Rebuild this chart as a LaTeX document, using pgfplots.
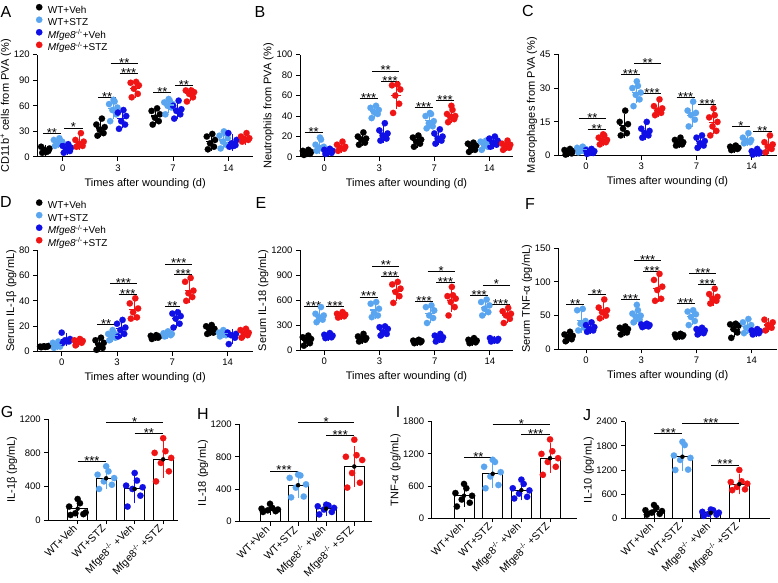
\documentclass[border=0pt]{standalone}
\usepackage{pgfplots}
\pgfplotsset{compat=1.18}
\usepackage{pgfplotstable}
\usepackage{fontspec}
\setmainfont{Liberation Sans}
\setsansfont{Liberation Sans}

\definecolor{cK}{RGB}{0,0,0}
\definecolor{cL}{RGB}{90,165,240}
\definecolor{cB}{RGB}{15,15,230}
\definecolor{cR}{RGB}{240,20,20}

\pgfplotsset{
  panel/.style={scale only axis, clip=false,
    axis x line*=bottom, axis y line*=left,
    axis line style={line width=1pt,-},
    tick style={line width=1pt, black},
    tick align=outside, major tick length=4pt,
    ymin=0, xtick={1,2,3,4},
    tick label style={font=\fontsize{9.5}{10}\selectfont},
    label style={font=\fontsize{11}{12}\selectfont},
    ylabel shift=-4pt,
    /pgf/number format/assume math mode=true,
    /pgf/number format/set thousands separator={},
    scaled y ticks=false},
  timeax/.style={panel, xticklabels={0,3,7,14}, xlabel={Times after wounding (d)}},
  barax/.style={panel, ylabel shift=-4.5pt,
    xticklabels={WT+Veh,WT+STZ,Mfge8\textsuperscript{-/-} +Veh,Mfge8\textsuperscript{-/-} +STZ},
    x tick label style={rotate=45, anchor=east, font=\fontsize{10.5}{10.5}\selectfont}},
  pt/.style={only marks, mark=*, mark size=3.2pt, color=#1,
    mark options={fill=#1, draw=#1, line width=0.1pt}},
  msd/.style={forget plot, only marks, mark=-, mark size=5pt, color=#1,
    mark options={line width=1.2pt},
    error bars/y dir=both, error bars/y explicit,
    error bars/error bar style={line width=1pt, color=#1},
    error bars/error mark options={line width=1pt, mark size=3pt, color=#1}},
  eb/.style={forget plot, only marks, mark=none,
    error bars/y dir=both, error bars/y explicit,
    error bars/error bar style={line width=1pt, color=#1},
    error bars/error mark options={line width=1pt, mark size=3.5pt, color=#1}},
  leg/.style={legend style={at={(rel axis cs:0,1)}, anchor=south west,
      xshift=-1.5pt, yshift=1pt, draw=none, fill=none, inner sep=0pt,
      row sep=0.8pt, font=\fontsize{10}{11}\selectfont,
      nodes={inner sep=0.5pt, text height=7.5pt, text depth=2pt},
      /tikz/every odd column/.append style={column sep=5pt}},
    legend cell align=left,
    legend image code/.code={\draw[##1] plot coordinates {(0pt,3.3pt)};}},
}

% significance bracket: x1 x2 y stars
\newcommand{\br}[4]{\draw[line width=0.8pt] (axis cs:#1,#3) -- (axis cs:#2,#3)
  node[midway, anchor=base, yshift=-4pt, inner sep=0pt, font=\fontsize{13}{13}\selectfont] {#4};}

\newcommand{\scat}[2]{%
  \addplot[pt=cK] table[x expr=\thisrow{c}-0.31+\thisrow{j}, y=y1] {#1};
  \addplot[pt=cL] table[x expr=\thisrow{c}-0.08+\thisrow{j}, y=y2] {#1};
  \addplot[pt=cB] table[x expr=\thisrow{c}+0.08+\thisrow{j}, y=y3] {#1};
  \addplot[pt=cR] table[x expr=\thisrow{c}+0.31+\thisrow{j}, y=y4] {#1};
  \addplot[msd=cK] table[x expr=\thisrow{c}-0.31, y=m1, y error=s1] {#2};
  \addplot[msd=cL] table[x expr=\thisrow{c}-0.08, y=m2, y error=s2] {#2};
  \addplot[msd=cB] table[x expr=\thisrow{c}+0.08, y=m3, y error=s3] {#2};
  \addplot[msd=cR] table[x expr=\thisrow{c}+0.31, y=m4, y error=s4] {#2};
}

\newcommand{\barpts}[1]{%
  \addplot[pt=cK, forget plot] table[x expr=1+\thisrow{j}, y=y1] {#1};
  \addplot[pt=cL, forget plot] table[x expr=2+\thisrow{j}, y=y2] {#1};
  \addplot[pt=cB, forget plot] table[x expr=3+\thisrow{j}, y=y3] {#1};
  \addplot[pt=cR, forget plot] table[x expr=4+\thisrow{j}, y=y4] {#1};
}

% ---------- A: CD11b+ ----------
\pgfplotstableread{
c j y1 y2 y3 y4
1 -0.06 5 13 5 12
1 0.05 7 15 7 13
1 -0.02 8 17 9 15
1 0.07 10 18 11 18
1 -0.08 12 20 13 20
1 0.02 6 22 15 28
1 0.00 nan 16 nan nan
2 -0.06 25 42 33 70
2 0.05 28 50 38 74
2 -0.02 32 55 42 80
2 0.07 35 58 48 84
2 -0.08 38 62 52 87
2 0.02 45 65 55 88
2 0.00 nan 67 nan nan
3 -0.06 38 50 45 65
3 0.05 42 58 50 70
3 -0.02 46 60 54 74
3 0.07 50 62 56 76
3 -0.08 54 64 60 78
3 0.02 57 66 66 78
3 0.00 nan 68 nan nan
4 -0.06 9 10 12 18
4 0.05 12 14 14 20
4 -0.02 16 18 16 21
4 0.07 20 22 20 22
4 -0.08 24 25 28 24
4 0.02 27 28 13 28
4 0.00 nan 30 nan nan
}\tA
\pgfplotstableread{
c m1 s1 m2 s2 m3 s3 m4 s4
1 8 3 17 3 10 4 18 6
2 34 7 57 9 45 8 80 7
3 48 7 61 6 55 7 74 5
4 18 7 20 7 17 6 22 4
}\mA

% ---------- B: neutrophils ----------
\pgfplotstableread{
c j y1 y2 y3 y4
1 -0.06 2 6 3 6
1 0.05 3 8 4 8
1 -0.02 4 9 5 9
1 0.07 5 10 6 10
1 -0.08 6 12 7 12
1 0.02 7 17 8 15
1 0.00 nan 19 nan nan
2 -0.06 12 38 16 43
2 0.05 14 42 18 52
2 -0.02 17 44 21 60
2 0.07 18 46 23 66
2 -0.08 20 48 26 70
2 0.02 24 50 33 71
2 0.00 nan nan nan nan
3 -0.06 10 28 13 34
3 0.05 13 30 16 37
3 -0.02 15 33 18 39
3 0.07 17 35 20 40
3 -0.08 19 40 23 42
3 0.02 21 42 27 46
3 0.00 nan 43 nan 50
4 -0.06 5 7 10 7
4 0.05 7 10 12 9
4 -0.02 9 12 14 11
4 0.07 11 14 16 12
4 -0.08 13 15 18 13
4 0.02 14 16 20 16
4 0.00 nan nan nan nan
}\tB
\pgfplotstableread{
c m1 s1 m2 s2 m3 s3 m4 s4
1 4.5 2 11 5 5.5 2 10 3
2 17.5 4 45 4 23 6 60 10
3 16 4 36 6 20 5 41 5
4 10 3 12 3 15 4 12 3
}\mB

% ---------- C: macrophages ----------
\pgfplotstableread{
c j y1 y2 y3 y4
1 -0.06 0.5 1.5 0.8 5
1 0.05 1 2 1.2 6
1 -0.02 1.5 2.5 1.6 6.5
1 0.07 2 3 2 7
1 -0.08 2.5 3.5 2.5 8
1 0.02 3 4 3 9
1 0.00 nan nan nan 9.5
2 -0.06 9 22 8 18
2 0.05 10 25 9 19
2 -0.02 12 27 10 20
2 0.07 14 28 11 21
2 -0.08 15 30 12 22
2 0.02 20 31 15 25
2 0.00 nan 33 nan nan
3 -0.06 4.5 13 3.5 9
3 0.05 5 16 4.5 11
3 -0.02 5.5 18 5.5 13
3 0.07 6 19 6.5 15
3 -0.08 7 20 8 17
3 0.02 8 24 9 18
3 0.00 nan nan nan 21
4 -0.06 2.5 5.5 0.5 1.5
4 0.05 3 6 1 3
4 -0.02 3 6.5 1.2 4
4 0.07 3.5 7 1.5 5
4 -0.08 4 8 2 6
4 0.02 4.5 10 3 9
4 0.00 nan nan nan nan
}\tC
\pgfplotstableread{
c m1 s1 m2 s2 m3 s3 m4 s4
1 1.6 0.9 2.8 0.9 1.8 0.8 7.2 1.5
2 13.3 4 28 3.5 10.8 2.5 21 2.5
3 6 1.3 18 4 6.2 2 14.9 4
4 3.4 0.7 7.2 1.7 1.5 0.8 4.8 2.7
}\mC

% ---------- D: serum IL-1b ----------
\pgfplotstableread{
c j y1 y2 y3 y4
1 -0.06 3.5 3 7 5
1 0.05 4 4 8 7
1 -0.02 4.2 5 9 8
1 0.07 4.5 6 10 8.5
1 -0.08 4 7 15 9
1 0.02 3.8 8 8.5 10
1 0.00 nan nan nan nan
2 -0.06 1.5 9 12 26
2 0.05 3 11 14 27
2 -0.02 5 12 17 31
2 0.07 7 13 19 34
2 -0.08 9 14 22 38
2 0.02 11 15 25 42
2 0.00 nan 17 nan nan
3 -0.06 10 12 19 40
3 0.05 11 13 22 43
3 -0.02 11.5 13.5 26 46
3 0.07 12 14 28 48
3 -0.08 12.5 14.5 30 55
3 0.02 13 15 31 58
3 0.00 nan 16 nan nan
4 -0.06 14 12 6 11
4 0.05 15 13 11 13
4 -0.02 17 14 13 14
4 0.07 18 15 14 15
4 -0.08 20 15 15 17
4 0.02 21 16 nan 18
4 0.00 nan 17 nan nan
}\tD
\pgfplotstableread{
c m1 s1 m2 s2 m3 s3 m4 s4
1 4 0.4 5.5 2 9.5 3 8 2
2 6 3.5 13 3 18 5 33 6
3 12 1 14 1.3 26 5 48 7
4 17.5 2.8 14.5 1.7 12 3.5 15 2.5
}\mD

% ---------- E: serum IL-18 ----------
\pgfplotstableread{
c j y1 y2 y3 y4
1 -0.06 60 340 150 395
1 0.05 90 370 160 410
1 -0.02 120 400 170 420
1 0.07 140 420 180 430
1 -0.08 160 440 190 440
1 0.02 180 520 210 460
1 0.00 nan nan nan nan
2 -0.06 110 400 180 570
2 0.05 130 420 200 650
2 -0.02 140 450 220 700
2 0.07 150 500 260 740
2 -0.08 170 560 280 790
2 0.02 200 580 290 820
2 0.00 nan nan nan nan
3 -0.06 90 330 110 420
3 0.05 100 390 130 520
3 -0.02 110 420 150 580
3 0.07 115 480 160 620
3 -0.08 120 520 180 650
3 0.02 130 540 200 660
3 0.00 nan nan nan 760
4 -0.06 90 420 110 330
4 0.05 100 460 120 380
4 -0.02 110 500 130 420
4 0.07 120 540 140 440
4 -0.08 130 580 150 470
4 0.02 150 610 nan 510
4 0.00 nan nan nan nan
}\tE
\pgfplotstableread{
c m1 s1 m2 s2 m3 s3 m4 s4
1 125 45 415 55 177 22 425 22
2 150 30 485 75 240 45 712 85
3 110 15 447 80 155 30 600 100
4 117 20 518 70 130 15 425 60
}\mE

% ---------- F: serum TNF-a ----------
\pgfplotstableread{
c j y1 y2 y3 y4
1 -0.06 12 28 26 46
1 0.05 15 32 28 50
1 -0.02 18 38 30 55
1 0.07 20 42 33 58
1 -0.08 22 58 36 62
1 0.02 26 60 40 74
1 0.00 nan nan nan nan
2 -0.06 22 40 33 72
2 0.05 25 44 34 75
2 -0.02 28 48 35 88
2 0.07 30 50 36 93
2 -0.08 32 53 37 103
2 0.02 34 58 38 112
2 0.00 nan 66 nan nan
3 -0.06 18 36 22 68
3 0.05 19 42 24 72
3 -0.02 20 48 26 75
3 0.07 21 52 28 78
3 -0.08 22 56 30 82
3 0.02 23 58 32 90
3 0.00 nan nan nan nan
4 -0.06 17 24 22 28
4 0.05 25 28 24 32
4 -0.02 30 32 25 36
4 0.07 35 36 27 40
4 -0.08 37 40 28 44
4 0.02 38 45 30 nan
4 0.00 nan nan nan nan
}\tF
\pgfplotstableread{
c m1 s1 m2 s2 m3 s3 m4 s4
1 19 5 43 14 32 5 58 10
2 28.5 4.5 51 8.5 36 2 90 15
3 20.5 1.8 49 8 27 3.5 77 7.5
4 30 8 34 7 26 3 36 6
}\mF

% ---------- G-J: bar panels ----------
\pgfplotstableread{
j y1 y2 y3 y4
-0.25 60 370 160 460
0.2 70 420 290 580
-0.08 80 460 370 680
0.28 90 500 390 740
-0.3 160 540 410 800
0.08 200 580 470 820
0.0 250 640 560 975
}\tG
\pgfplotstableread{
j y1 y2 y3 y4
-0.25 120 300 90 420
0.2 130 310 120 480
-0.08 140 420 150 600
0.28 150 460 170 760
-0.3 160 540 190 800
0.08 170 570 200 820
0.0 220 580 210 1010
}\tH
\pgfplotstableread{
j y1 y2 y3 y4
-0.25 220 560 370 810
0.2 290 620 400 960
-0.08 350 780 460 1050
0.28 420 860 520 1120
-0.3 470 960 560 1200
0.08 560 1050 640 1250
0.0 640 1090 720 1470
}\tI
\pgfplotstableread{
j y1 y2 y3 y4
-0.25 90 1200 60 700
0.2 110 1210 90 720
-0.08 140 1450 110 780
0.28 180 1500 140 860
-0.3 200 1560 160 900
0.08 260 1820 200 920
0.0 330 1900 220 1200
}\tJ

\begin{document}
\begin{tikzpicture}
\useasboundingbox (0,0) rectangle (778pt,582pt);

% ===== A =====
\begin{axis}[timeax, leg, at={(37.3pt,425pt)}, anchor=south west,
  width=215.7pt, height=102.4pt, xmin=0.54, xmax=4.447, ymax=120,
  ytick={0,30,60,90,120}, ylabel={CD11b\textsuperscript{+} cells from PVA (\%)}]
\scat{\tA}{\mA}
\legend{WT+Veh, WT+STZ, \textit{Mfge8}\textsuperscript{-/-}+Veh, \textit{Mfge8}\textsuperscript{-/-}+STZ}
\br{0.64}{0.97}{28}{**}
\br{1.03}{1.36}{34}{*}
\br{1.64}{1.97}{69.5}{**}
\br{1.87}{2.36}{110}{**}
\br{2.03}{2.36}{98}{***}
\br{2.64}{2.97}{76}{**}
\br{3.03}{3.36}{84}{**}
\end{axis}

% ===== B =====
\begin{axis}[timeax, at={(300pt,425pt)}, anchor=south west,
  width=213pt, height=102.4pt, xmin=0.558, xmax=4.43, ymax=100,
  ytick={0,20,40,60,80,100}, ylabel={Neutrophils from PVA (\%)}]
\scat{\tB}{\mB}
\br{0.64}{0.97}{24.4}{**}
\br{1.64}{1.97}{57}{***}
\br{1.87}{2.36}{84}{**}
\br{2.03}{2.36}{74}{***}
\br{2.64}{2.97}{48}{***}
\br{3.03}{3.36}{55}{***}
\end{axis}

% ===== C =====
\begin{axis}[timeax, at={(558pt,426.3pt)}, anchor=south west,
  width=219pt, height=101.4pt, xmin=0.493, xmax=4.458, ymax=45,
  ytick={0,15,30,45}, ylabel={Macrophages from PVA (\%)}]
\scat{\tC}{\mC}
\br{0.87}{1.36}{16.4}{**}
\br{1.03}{1.36}{11.7}{**}
\br{1.64}{1.97}{36.2}{***}
\br{1.87}{2.36}{40.9}{**}
\br{2.03}{2.36}{27.7}{***}
\br{2.64}{2.97}{26}{***}
\br{3.03}{3.36}{22.7}{***}
\br{3.64}{3.97}{12.8}{*}
\br{4.03}{4.36}{10.6}{**}
\end{axis}

% ===== D =====
\begin{axis}[timeax, leg, at={(37.3pt,230.3pt)}, anchor=south west,
  width=215.7pt, height=101.7pt, xmin=0.559, xmax=4.457, ymax=80,
  ytick={0,20,40,60,80}, ylabel={Serum IL-1β (pg/mL)}]
\scat{\tD}{\mD}
\legend{WT+Veh, WT+STZ, \textit{Mfge8}\textsuperscript{-/-}+Veh, \textit{Mfge8}\textsuperscript{-/-}+STZ}
\br{1.64}{1.97}{21.5}{**}
\br{1.87}{2.36}{54}{***}
\br{2.03}{2.36}{45}{***}
\br{2.87}{3.13}{35.4}{**}
\br{2.87}{3.36}{69}{***}
\br{3.03}{3.36}{61}{***}
\end{axis}

% ===== E =====
\begin{axis}[timeax, at={(300pt,231.3pt)}, anchor=south west,
  width=213pt, height=100.7pt, xmin=0.56, xmax=4.417, ymax=1200,
  ytick={0,300,600,900,1200}, ylabel={Serum IL-18 (pg/mL)}]
\scat{\tE}{\mE}
\br{0.64}{0.97}{532}{***}
\br{1.03}{1.36}{525}{***}
\br{1.64}{1.97}{640}{***}
\br{1.87}{2.36}{1010}{**}
\br{2.03}{2.36}{882}{***}
\br{2.64}{2.97}{584}{***}
\br{2.87}{3.36}{942}{*}
\br{3.03}{3.36}{815}{***}
\br{3.64}{3.97}{656}{***}
\br{3.87}{4.36}{783}{*}
\br{4.03}{4.36}{556}{***}
\end{axis}

% ===== F =====
\begin{axis}[timeax, at={(558.3pt,232.7pt)}, anchor=south west,
  width=218.7pt, height=101pt, xmin=0.498, xmax=4.458, ymax=150,
  ytick={0,50,100,150}, ylabel={Serum TNF-α (pg/mL)}]
\scat{\tF}{\mF}
\br{0.64}{0.97}{67}{**}
\br{1.03}{1.36}{81}{**}
\br{1.64}{1.97}{74}{***}
\br{1.87}{2.36}{131.7}{***}
\br{2.03}{2.36}{115}{***}
\br{2.64}{2.97}{68}{***}
\br{2.87}{3.36}{112}{***}
\br{3.03}{3.36}{96.5}{***}
\end{axis}

% ===== G =====
\begin{axis}[barax, at={(48.3pt,62pt)}, anchor=south west,
  width=129.7pt, height=100.7pt, xmin=-0.03, xmax=4.52, ymax=1200,
  ytick={0,400,800,1200}, ylabel={IL-1β (pg/mL)}]
\addplot[ybar, bar width=20pt, fill=white, draw=black, line width=1pt, forget plot]
  coordinates {(1,135) (2,497) (3,370) (4,723)};
\barpts{\tG}
\addplot[eb=cK] coordinates {(1,135) +- (0,75)};
\addplot[eb=cL] coordinates {(2,497) +- (0,90)};
\addplot[eb=cB] coordinates {(3,370) +- (0,130)};
\addplot[eb=cR] coordinates {(4,723) +- (0,175)};
\br{1}{2}{703}{***}
\br{2}{4}{1164}{*}
\br{3}{4}{1033}{**}
\end{axis}

% ===== H =====
\begin{axis}[barax, at={(239.3pt,60.3pt)}, anchor=south west,
  width=132.7pt, height=97.4pt, xmin=-0.093, xmax=4.63, ymax=1200,
  ytick={0,400,800,1200}, ylabel={IL-18 (pg/mL)}]
\addplot[ybar, bar width=20pt, fill=white, draw=black, line width=1pt, forget plot]
  coordinates {(1,155) (2,450) (3,161) (4,680)};
\barpts{\tH}
\addplot[eb=cK] coordinates {(1,155) +- (0,32)};
\addplot[eb=cL] coordinates {(2,450) +- (0,115)};
\addplot[eb=cB] coordinates {(3,161) +- (0,43)};
\addplot[eb=cR] coordinates {(4,680) +- (0,205)};
\br{1}{2}{625}{***}
\br{2}{4}{1225}{*}
\br{3}{4}{1068}{***}
\end{axis}

% ===== I =====
\begin{axis}[barax, at={(431.7pt,63.7pt)}, anchor=south west,
  width=145.3pt, height=96.6pt, xmin=-0.127, xmax=4.94, ymax=1800,
  ytick={0,600,1200,1800}, ylabel={TNF-α (pg/mL)}]
\addplot[ybar, bar width=20pt, fill=white, draw=black, line width=1pt, forget plot]
  coordinates {(1,421) (2,830) (3,524) (4,1120)};
\barpts{\tI}
\addplot[eb=cK] coordinates {(1,421) +- (0,145)};
\addplot[eb=cL] coordinates {(2,830) +- (0,200)};
\addplot[eb=cB] coordinates {(3,524) +- (0,125)};
\addplot[eb=cR] coordinates {(4,1120) +- (0,210)};
\br{1}{2}{1130}{**}
\br{2}{4}{1750}{*}
\br{3}{4}{1564}{***}
\end{axis}

% ===== J =====
\begin{axis}[barax, at={(625pt,63.7pt)}, anchor=south west,
  width=145pt, height=96.6pt, xmin=-0.02, xmax=5.08, ymax=2400,
  ytick={0,600,1200,1800,2400}, ylabel={IL-10 (pg/mL)}]
\addplot[ybar, bar width=20pt, fill=white, draw=black, line width=1pt, forget plot]
  coordinates {(1,180) (2,1530) (3,135) (4,850)};
\barpts{\tJ}
\addplot[eb=cK] coordinates {(1,180) +- (0,85)};
\addplot[eb=cL] coordinates {(2,1530) +- (0,280)};
\addplot[eb=cB] coordinates {(3,135) +- (0,58)};
\addplot[eb=cR] coordinates {(4,850) +- (0,170)};
\br{1}{2}{2111}{***}
\br{2}{4}{2360}{***}
\br{3}{4}{1325}{***}
\end{axis}

% panel letters
\begin{scope}[every node/.style={font=\fontsize{16}{16}\selectfont, inner sep=0pt}]
\node at (6pt,570pt) {A};
\node at (260pt,570pt) {B};
\node at (528pt,571pt) {C};
\node at (6pt,380pt) {D};
\node at (261pt,379pt) {E};
\node at (530pt,378pt) {F};
\node at (7pt,170pt) {G};
\node at (203pt,168pt) {H};
\node at (398pt,170pt) {I};
\node at (587pt,167pt) {J};
\end{scope}
\end{tikzpicture}
\end{document}
